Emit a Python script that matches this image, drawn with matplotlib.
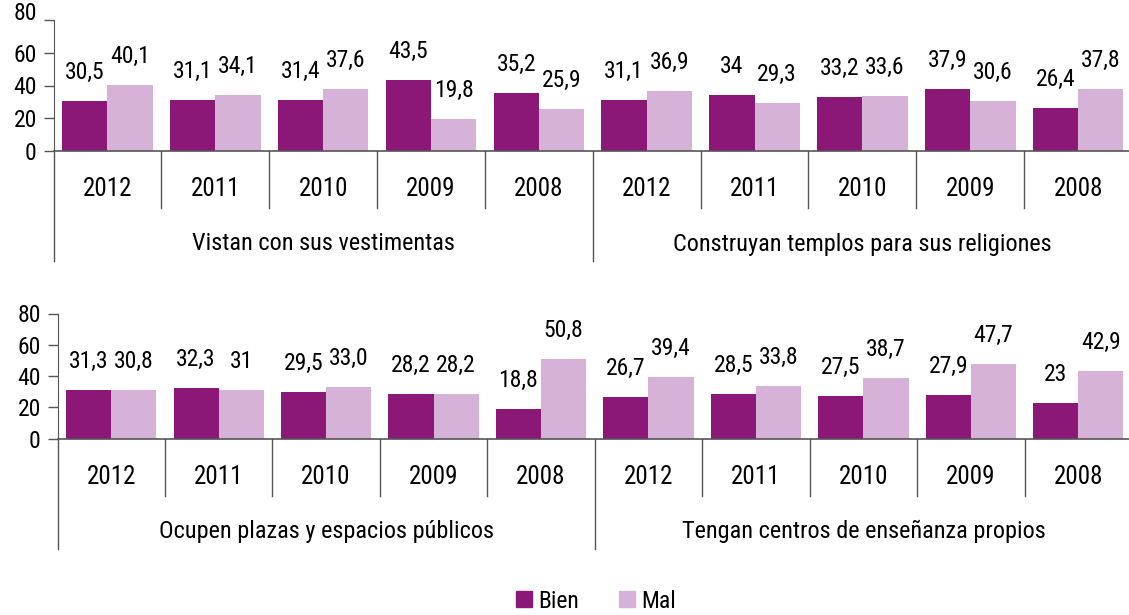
import matplotlib
matplotlib.use("Agg")
import matplotlib.pyplot as plt
from matplotlib.patches import Patch
from matplotlib.transforms import ScaledTranslation

plt.rcParams['font.family'] = ['Roboto Condensed', 'DejaVu Sans']

years = ['2012', '2011', '2010', '2009', '2008']
top_groups = ['Vistan con sus vestimentas', 'Construyan templos para sus religiones']
bottom_groups = ['Ocupen plazas y espacios públicos', 'Tengan centros de enseñanza propios']

# value labels as printed; bar heights are parsed from them
top_bien = ['30,5', '31,1', '31,4', '43,5', '35,2',
            '31,1', '34', '33,2', '37,9', '26,4']
top_mal = ['40,1', '34,1', '37,6', '19,8', '25,9',
           '36,9', '29,3', '33,6', '30,6', '37,8']
bottom_bien = ['31,3', '32,3', '29,5', '28,2', '18,8',
               '26,7', '28,5', '27,5', '27,9', '23']
bottom_mal = ['30,8', '31', '33,0', '28,2', '50,8',
              '39,4', '33,8', '38,7', '47,7', '42,9']

C_BIEN = '#8b1777'
C_MAL = '#d6b1d8'
AXIS = '#555555'
W, H, DPI = 1129, 615, 100


def num(s):
    return float(s.replace(',', '.'))


fig = plt.figure(figsize=(W / DPI, H / DPI), dpi=DPI)


def panel(x0, x1, y_zero, y_top, bien, mal, groups):
    # pixel geometry -> figure fraction
    ax = fig.add_axes([x0 / W, 1 - y_zero / H, (x1 - x0) / W, (y_zero - y_top) / H])
    n = len(bien)
    bw = 0.42
    xs = [i + 0.5 for i in range(n)]
    vb = [num(s) for s in bien]
    vm = [num(s) for s in mal]
    ax.bar([x - bw / 2 for x in xs], vb, bw, color=C_BIEN, zorder=2)
    ax.bar([x + bw / 2 for x in xs], vm, bw, color=C_MAL, zorder=2)
    lab_off = ScaledTranslation(0, 17 / DPI, fig.dpi_scale_trans)
    for x, v, s in zip(xs, vb, bien):
        ax.text(x - bw / 2, v, s, ha='center', va='bottom', fontsize=17,
                transform=ax.transData + lab_off)
    for x, v, s in zip(xs, vm, mal):
        ax.text(x + bw / 2, v, s, ha='center', va='bottom', fontsize=17,
                transform=ax.transData + lab_off)

    ax.set_xlim(0, n)
    ax.set_ylim(0, 80)
    ax.set_yticks([0, 20, 40, 60, 80])
    ax.tick_params(axis='y', length=7, width=1, color=AXIS, pad=5, labelsize=17)
    ax.set_xticks([])
    for sp in ['top', 'right', 'bottom']:
        ax.spines[sp].set_visible(False)
    ax.spines['left'].set_color(AXIS)
    ax.axhline(0, color=AXIS, lw=1.2, zorder=3, clip_on=False)

    # category axis: short separators between years, long ones between groups
    h_px = y_zero - y_top
    for i in range(n + 1):
        depth = 110 if i % 5 == 0 else 57
        ax.plot([i, i], [0, -depth / h_px], color=AXIS, lw=1,
                transform=ax.get_xaxis_transform(), clip_on=False)
    for x, yr in zip(xs, years * 2):
        ax.text(x, -38 / h_px, yr, ha='center', va='center', fontsize=18,
                transform=ax.get_xaxis_transform())
    for g, name in enumerate(groups):
        ax.text(2.5 + 5 * g, -93 / h_px, name, ha='center', va='center', fontsize=17.5,
                transform=ax.get_xaxis_transform())
    return ax


ax_top = panel(53.5, 1132, 151, 20, top_bien, top_mal, top_groups)
panel(57.5, 1132, 438.5, 313.5, bottom_bien, bottom_mal, bottom_groups)

# top "80" sits a little higher, partly off the canvas
lbl = ax_top.get_yticklabels()[-1]
lbl.set_transform(lbl.get_transform() + ScaledTranslation(0, 9 / DPI, fig.dpi_scale_trans))

handles = [Patch(color=C_BIEN, label='Bien'), Patch(color=C_MAL, label='Mal')]
fig.legend(handles=handles, loc='center', bbox_to_anchor=(596 / W, 1 - 601 / H),
           ncol=2, frameon=False, fontsize=17, handlelength=0.68, handleheight=0.68,
           handletextpad=0.25, columnspacing=1.7, borderpad=0.2)

fig.savefig('out.png', dpi=DPI)
